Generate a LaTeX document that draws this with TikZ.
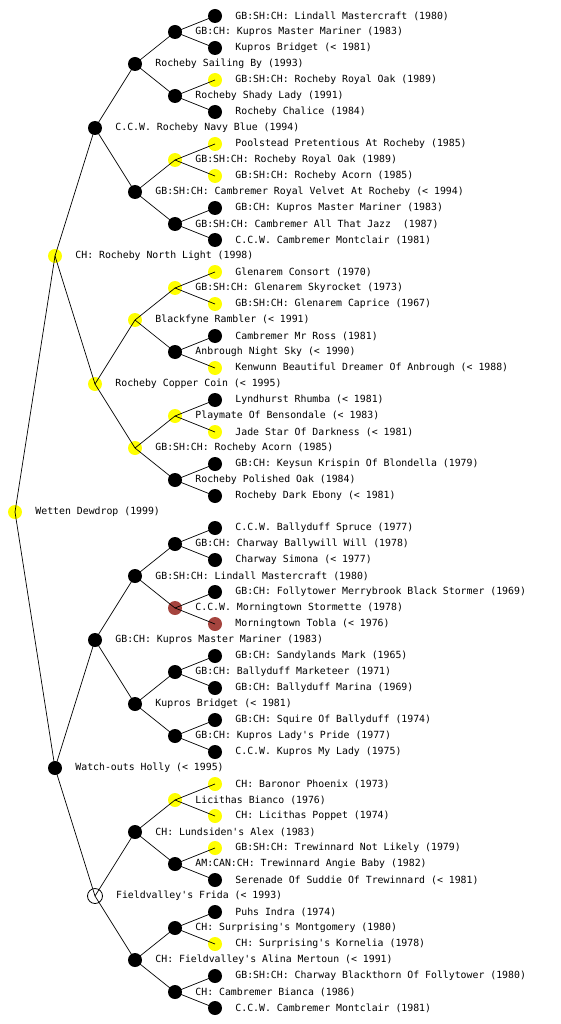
\documentclass[tikz,border=0pt]{standalone}
\usepackage{fontspec}
\setmonofont{DejaVu Sans Mono}
\usepackage{tikz}
\definecolor{dogyellow}{RGB}{255,255,0}
\definecolor{dogbrown}{RGB}{165,68,62}

\begin{document}
\begin{tikzpicture}[x=1pt, y=-1pt, label distance=13pt,
	dog/.style={circle, minimum size=14pt, inner sep=0pt},
	blk/.style={dog, fill=black},
	ylw/.style={dog, fill=dogyellow},
	brn/.style={dog, fill=dogbrown},
	wht/.style={dog, draw=black, line width=0.8pt, minimum size=15pt},
	every label/.style={font=\ttfamily\fontsize{9.85}{10}\selectfont, inner sep=0pt}]
	
	\useasboundingbox (0,0) rectangle (560,1024);
	
	% Generation 0
	\node[ylw, label=right:{Wetten Dewdrop (1999)}] (n1) at (15,512) {};
	
	% Generation 1
	\node[ylw, label=right:{CH: Rocheby North Light (1998)}] (n2) at (55,256) {};
	\node[blk, label=right:{Watch-outs Holly (< 1995)}] (n3) at (55,768) {};
	
	% Generation 2
	\node[blk, label=right:{C.C.W. Rocheby Navy Blue (1994)}] (n4) at (95,128) {};
	\node[ylw, label=right:{Rocheby Copper Coin (< 1995)}] (n5) at (95,384) {};
	\node[blk, label=right:{GB:CH: Kupros Master Mariner (1983)}] (n6) at (95,640) {};
	\node[wht, label=right:{Fieldvalley's Frida (< 1993)}] (n7) at (95,896) {};
	
	% Generation 3
	\node[blk, label=right:{Rocheby Sailing By (1993)}] (n8) at (135,64) {};
	\node[blk, label=right:{GB:SH:CH: Cambremer Royal Velvet At Rocheby (< 1994)}] (n9) at (135,192) {};
	\node[ylw, label=right:{Blackfyne Rambler (< 1991)}] (n10) at (135,320) {};
	\node[ylw, label=right:{GB:SH:CH: Rocheby Acorn (1985)}] (n11) at (135,448) {};
	\node[blk, label=right:{GB:SH:CH: Lindall Mastercraft (1980)}] (n12) at (135,576) {};
	\node[blk, label=right:{Kupros Bridget (< 1981)}] (n13) at (135,704) {};
	\node[blk, label=right:{CH: Lundsiden's Alex (1983)}] (n14) at (135,832) {};
	\node[blk, label=right:{CH: Fieldvalley's Alina Mertoun (< 1991)}] (n15) at (135,960) {};
	
	% Generation 4
	\node[blk, label=right:{GB:CH: Kupros Master Mariner (1983)}] (n16) at (175,32) {};
	\node[blk, label=right:{Rocheby Shady Lady (1991)}] (n17) at (175,96) {};
	\node[ylw, label=right:{GB:SH:CH: Rocheby Royal Oak (1989)}] (n18) at (175,160) {};
	\node[blk, label=right:{GB:SH:CH: Cambremer All That Jazz~ (1987)}] (n19) at (175,224) {};
	\node[ylw, label=right:{GB:SH:CH: Glenarem Skyrocket (1973)}] (n20) at (175,288) {};
	\node[blk, label=right:{Anbrough Night Sky (< 1990)}] (n21) at (175,352) {};
	\node[ylw, label=right:{Playmate Of Bensondale (< 1983)}] (n22) at (175,416) {};
	\node[blk, label=right:{Rocheby Polished Oak (1984)}] (n23) at (175,480) {};
	\node[blk, label=right:{GB:CH: Charway Ballywill Will (1978)}] (n24) at (175,544) {};
	\node[brn, label=right:{C.C.W. Morningtown Stormette (1978)}] (n25) at (175,608) {};
	\node[blk, label=right:{GB:CH: Ballyduff Marketeer (1971)}] (n26) at (175,672) {};
	\node[blk, label=right:{GB:CH: Kupros Lady's Pride (1977)}] (n27) at (175,736) {};
	\node[ylw, label=right:{Licithas Bianco (1976)}] (n28) at (175,800) {};
	\node[blk, label=right:{AM:CAN:CH: Trewinnard Angie Baby (1982)}] (n29) at (175,864) {};
	\node[blk, label=right:{CH: Surprising's Montgomery (1980)}] (n30) at (175,928) {};
	\node[blk, label=right:{CH: Cambremer Bianca (1986)}] (n31) at (175,992) {};
	
	% Generation 5
	\node[blk, label=right:{GB:SH:CH: Lindall Mastercraft (1980)}] (n32) at (215,16) {};
	\node[blk, label=right:{Kupros Bridget (< 1981)}] (n33) at (215,48) {};
	\node[ylw, label=right:{GB:SH:CH: Rocheby Royal Oak (1989)}] (n34) at (215,80) {};
	\node[blk, label=right:{Rocheby Chalice (1984)}] (n35) at (215,112) {};
	\node[ylw, label=right:{Poolstead Pretentious At Rocheby (1985)}] (n36) at (215,144) {};
	\node[ylw, label=right:{GB:SH:CH: Rocheby Acorn (1985)}] (n37) at (215,176) {};
	\node[blk, label=right:{GB:CH: Kupros Master Mariner (1983)}] (n38) at (215,208) {};
	\node[blk, label=right:{C.C.W. Cambremer Montclair (1981)}] (n39) at (215,240) {};
	\node[ylw, label=right:{Glenarem Consort (1970)}] (n40) at (215,272) {};
	\node[ylw, label=right:{GB:SH:CH: Glenarem Caprice (1967)}] (n41) at (215,304) {};
	\node[blk, label=right:{Cambremer Mr Ross (1981)}] (n42) at (215,336) {};
	\node[ylw, label=right:{Kenwunn Beautiful Dreamer Of Anbrough (< 1988)}] (n43) at (215,368) {};
	\node[blk, label=right:{Lyndhurst Rhumba (< 1981)}] (n44) at (215,400) {};
	\node[ylw, label=right:{Jade Star Of Darkness (< 1981)}] (n45) at (215,432) {};
	\node[blk, label=right:{GB:CH: Keysun Krispin Of Blondella (1979)}] (n46) at (215,464) {};
	\node[blk, label=right:{Rocheby Dark Ebony (< 1981)}] (n47) at (215,496) {};
	\node[blk, label=right:{C.C.W. Ballyduff Spruce (1977)}] (n48) at (215,528) {};
	\node[blk, label=right:{Charway Simona (< 1977)}] (n49) at (215,560) {};
	\node[blk, label=right:{GB:CH: Follytower Merrybrook Black Stormer (1969)}] (n50) at (215,592) {};
	\node[brn, label=right:{Morningtown Tobla (< 1976)}] (n51) at (215,624) {};
	\node[blk, label=right:{GB:CH: Sandylands Mark (1965)}] (n52) at (215,656) {};
	\node[blk, label=right:{GB:CH: Ballyduff Marina (1969)}] (n53) at (215,688) {};
	\node[blk, label=right:{GB:CH: Squire Of Ballyduff (1974)}] (n54) at (215,720) {};
	\node[blk, label=right:{C.C.W. Kupros My Lady (1975)}] (n55) at (215,752) {};
	\node[ylw, label=right:{CH: Baronor Phoenix (1973)}] (n56) at (215,784) {};
	\node[ylw, label=right:{CH: Licithas Poppet (1974)}] (n57) at (215,816) {};
	\node[ylw, label=right:{GB:SH:CH: Trewinnard Not Likely (1979)}] (n58) at (215,848) {};
	\node[blk, label=right:{Serenade Of Suddie Of Trewinnard (< 1981)}] (n59) at (215,880) {};
	\node[blk, label=right:{Puhs Indra (1974)}] (n60) at (215,912) {};
	\node[ylw, label=right:{CH: Surprising's Kornelia (1978)}] (n61) at (215,944) {};
	\node[blk, label=right:{GB:SH:CH: Charway Blackthorn Of Follytower (1980)}] (n62) at (215,976) {};
	\node[blk, label=right:{C.C.W. Cambremer Montclair (1981)}] (n63) at (215,1008) {};
	
	% Edges
	\draw[line width=0.7pt] (n1.center) -- (n2.center);
	\draw[line width=0.7pt] (n1.center) -- (n3.center);
	\draw[line width=0.7pt] (n2.center) -- (n4.center);
	\draw[line width=0.7pt] (n2.center) -- (n5.center);
	\draw[line width=0.7pt] (n3.center) -- (n6.center);
	\draw[line width=0.7pt] (n3.center) -- (n7.center);
	\draw[line width=0.7pt] (n4.center) -- (n8.center);
	\draw[line width=0.7pt] (n4.center) -- (n9.center);
	\draw[line width=0.7pt] (n5.center) -- (n10.center);
	\draw[line width=0.7pt] (n5.center) -- (n11.center);
	\draw[line width=0.7pt] (n6.center) -- (n12.center);
	\draw[line width=0.7pt] (n6.center) -- (n13.center);
	\draw[line width=0.7pt] (n7.center) -- (n14.center);
	\draw[line width=0.7pt] (n7.center) -- (n15.center);
	\draw[line width=0.7pt] (n8.center) -- (n16.center);
	\draw[line width=0.7pt] (n8.center) -- (n17.center);
	\draw[line width=0.7pt] (n9.center) -- (n18.center);
	\draw[line width=0.7pt] (n9.center) -- (n19.center);
	\draw[line width=0.7pt] (n10.center) -- (n20.center);
	\draw[line width=0.7pt] (n10.center) -- (n21.center);
	\draw[line width=0.7pt] (n11.center) -- (n22.center);
	\draw[line width=0.7pt] (n11.center) -- (n23.center);
	\draw[line width=0.7pt] (n12.center) -- (n24.center);
	\draw[line width=0.7pt] (n12.center) -- (n25.center);
	\draw[line width=0.7pt] (n13.center) -- (n26.center);
	\draw[line width=0.7pt] (n13.center) -- (n27.center);
	\draw[line width=0.7pt] (n14.center) -- (n28.center);
	\draw[line width=0.7pt] (n14.center) -- (n29.center);
	\draw[line width=0.7pt] (n15.center) -- (n30.center);
	\draw[line width=0.7pt] (n15.center) -- (n31.center);
	\draw[line width=0.7pt] (n16.center) -- (n32.center);
	\draw[line width=0.7pt] (n16.center) -- (n33.center);
	\draw[line width=0.7pt] (n17.center) -- (n34.center);
	\draw[line width=0.7pt] (n17.center) -- (n35.center);
	\draw[line width=0.7pt] (n18.center) -- (n36.center);
	\draw[line width=0.7pt] (n18.center) -- (n37.center);
	\draw[line width=0.7pt] (n19.center) -- (n38.center);
	\draw[line width=0.7pt] (n19.center) -- (n39.center);
	\draw[line width=0.7pt] (n20.center) -- (n40.center);
	\draw[line width=0.7pt] (n20.center) -- (n41.center);
	\draw[line width=0.7pt] (n21.center) -- (n42.center);
	\draw[line width=0.7pt] (n21.center) -- (n43.center);
	\draw[line width=0.7pt] (n22.center) -- (n44.center);
	\draw[line width=0.7pt] (n22.center) -- (n45.center);
	\draw[line width=0.7pt] (n23.center) -- (n46.center);
	\draw[line width=0.7pt] (n23.center) -- (n47.center);
	\draw[line width=0.7pt] (n24.center) -- (n48.center);
	\draw[line width=0.7pt] (n24.center) -- (n49.center);
	\draw[line width=0.7pt] (n25.center) -- (n50.center);
	\draw[line width=0.7pt] (n25.center) -- (n51.center);
	\draw[line width=0.7pt] (n26.center) -- (n52.center);
	\draw[line width=0.7pt] (n26.center) -- (n53.center);
	\draw[line width=0.7pt] (n27.center) -- (n54.center);
	\draw[line width=0.7pt] (n27.center) -- (n55.center);
	\draw[line width=0.7pt] (n28.center) -- (n56.center);
	\draw[line width=0.7pt] (n28.center) -- (n57.center);
	\draw[line width=0.7pt] (n29.center) -- (n58.center);
	\draw[line width=0.7pt] (n29.center) -- (n59.center);
	\draw[line width=0.7pt] (n30.center) -- (n60.center);
	\draw[line width=0.7pt] (n30.center) -- (n61.center);
	\draw[line width=0.7pt] (n31.center) -- (n62.center);
	\draw[line width=0.7pt] (n31.center) -- (n63.center);
	
\end{tikzpicture}
\end{document}
